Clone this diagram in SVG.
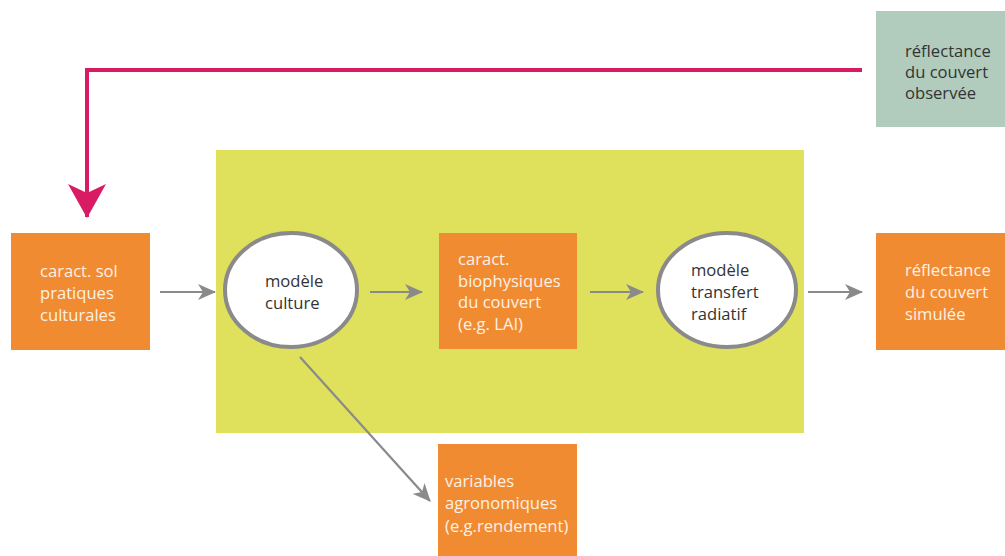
<svg xmlns="http://www.w3.org/2000/svg" width="1005" height="556" viewBox="0 0 1005 556">
<style>
.box{fill:#f18b32}
.teal{fill:#b1cbbd}
.ell{fill:#fff;stroke:#8a8a8a;stroke-width:4}
text{font-family:"Open Sans","Noto Sans",sans-serif;font-size:16.6px}
.w{fill:#fdf1e4}
.d{fill:#333}
.g{stroke:#8a8a8a;stroke-width:2.2;fill:none}
</style>
<defs>
<marker id="ga" viewBox="0 0 18 16" refX="17" refY="8" markerWidth="18" markerHeight="16" markerUnits="userSpaceOnUse" orient="auto">
<path d="M0,0 L18,8 L0,16 L5,8 Z" fill="#8a8a8a"/>
</marker>
<marker id="pa" viewBox="0 0 40 36" refX="20" refY="34" markerWidth="40" markerHeight="36" markerUnits="userSpaceOnUse" orient="0">
<path d="M1,1 L20,10 L39,1 L20,35 Z" fill="#d81b63"/>
</marker>
</defs>
<rect x="216" y="150" width="588" height="283" fill="#dfe05b"/>
<g id="connectors">
<path class="g" d="M160,292 L215,292" marker-end="url(#ga)"/>
<path class="g" d="M370,292 L422,292" marker-end="url(#ga)"/>
<path class="g" d="M590,292 L643,292" marker-end="url(#ga)"/>
<path class="g" d="M808,292 L862,292" marker-end="url(#ga)"/>
<path class="g" d="M300,357 L430,501" marker-end="url(#ga)"/>
<path d="M862,70 L87,70 L87,217" fill="none" stroke="#d81b63" stroke-width="4" marker-end="url(#pa)"/>
</g>
<g id="sol">
<rect class="box" x="11" y="233" width="139" height="117"/>
<text class="w"><tspan x="40" y="277">caract. sol</tspan><tspan x="40" y="299">pratiques</tspan><tspan x="40" y="321">culturales</tspan></text>
</g>
<g id="culture">
<ellipse class="ell" cx="291" cy="290" rx="66" ry="57"/>
<text class="d"><tspan x="265" y="287">modèle</tspan><tspan x="265" y="309">culture</tspan></text>
</g>
<g id="biophys">
<rect class="box" x="439" y="233" width="138" height="116"/>
<text class="w"><tspan x="458" y="265">caract.</tspan><tspan x="458" y="287">biophysiques</tspan><tspan x="458" y="308">du couvert</tspan><tspan x="458" y="330">(e.g. LAI)</tspan></text>
</g>
<g id="transfert">
<ellipse class="ell" cx="727" cy="290" rx="69" ry="57"/>
<text class="d"><tspan x="691" y="276">modèle</tspan><tspan x="691" y="298">transfert</tspan><tspan x="691" y="320">radiatif</tspan></text>
</g>
<g id="simulee">
<rect class="box" x="876" y="233" width="129" height="117"/>
<text class="w"><tspan x="905" y="276">réflectance</tspan><tspan x="905" y="298">du couvert</tspan><tspan x="905" y="320">simulée</tspan></text>
</g>
<g id="observee">
<rect class="teal" x="876" y="11" width="129" height="116"/>
<text class="d"><tspan x="905" y="57">réflectance</tspan><tspan x="905" y="78">du couvert</tspan><tspan x="905" y="99">observée</tspan></text>
</g>
<g id="agro">
<rect class="box" x="438" y="444" width="139" height="112"/>
<text class="w"><tspan x="445" y="487">variables</tspan><tspan x="445" y="509">agronomiques</tspan><tspan x="445" y="532">(e.g.rendement)</tspan></text>
</g>
</svg>
